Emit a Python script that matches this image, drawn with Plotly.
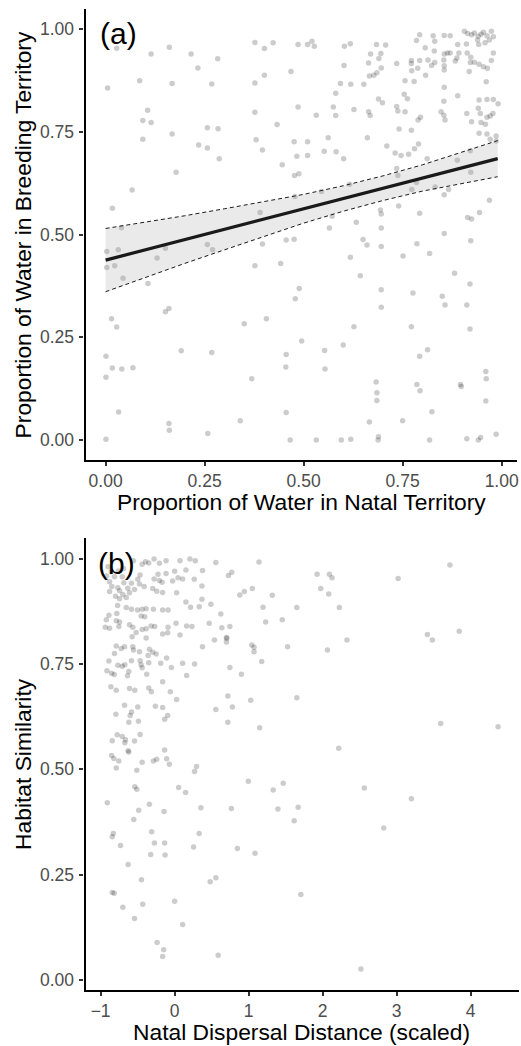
import plotly.graph_objects as go

# ---------------- Panel (a) data ----------------
natal_water = [
    0.005,0.028,0.086,0.115,0.161,0.168,0.216,0.233,0.268,0.283,0.377,0.401,0.377,0.401,0.377,0.380,
    0.396,0.106,0.094,0.115,0.094,0.168,0.257,0.284,0.235,0.257,0.287,0.178,0.067,0.017,0.040,0.390,
    0.003,0.003,0.023,0.032,0.044,0.107,0.130,0.151,0.257,0.270,0.377,0.396,0.151,0.160,0.015,0.028,
    0.350,0.406,0.001,0.017,0.041,0.069,0.191,0.268,0.001,0.369,0.033,0.160,0.161,0.258,0.340,0.001,
    0.423,0.486,0.510,0.521,0.527,0.603,0.618,0.684,0.707,0.793,
    0.785,0.827,0.831,0.855,0.870,0.906,0.914,0.924,0.931,0.941,
    0.948,0.954,0.963,0.974,0.979,0.939,0.958,0.969,0.942,0.911,
    0.889,0.863,0.870,0.855,0.892,0.913,0.979,0.807,0.830,0.669,
    0.695,0.690,0.664,0.602,0.735,0.772,0.772,0.793,0.814,0.823,
    0.831,0.854,0.883,0.887,0.922,0.921,0.931,0.943,0.954,0.964,
    0.974,0.855,0.855,0.696,0.685,0.677,0.666,0.773,0.788,0.808,
    0.918,0.468,0.593,0.619,0.652,0.756,0.779,0.961,0.855,0.581,
    0.754,0.762,0.889,0.689,0.699,0.854,0.943,0.963,0.979,0.991,
    0.486,0.575,0.627,0.735,0.738,0.756,0.664,0.668,0.847,0.854,
    0.941,0.946,0.912,0.963,0.971,0.978,0.532,0.581,0.795,0.789,
    0.857,0.924,0.948,0.959,0.433,0.741,0.772,0.943,0.963,0.986,
    0.562,0.661,0.476,0.510,0.971,0.986,0.710,0.790,0.780,0.921,
    0.552,0.582,0.483,0.510,0.731,0.746,0.765,0.601,0.446,0.888,
    0.812,0.735,0.922,0.477,0.488,0.738,0.785,0.773,0.832,0.866,
    0.855,0.478,0.545,0.616,0.969,0.694,0.696,0.740,0.793,0.914,
    0.924,0.944,0.572,0.633,0.565,0.696,0.855,0.456,0.476,0.650,
    0.660,0.696,0.786,0.922,
    0.442,0.618,0.751,0.818,0.643,0.881,0.489,0.479,0.696,0.696,
    0.776,0.850,0.857,0.912,0.920,0.627,0.772,0.920,0.495,0.553,
    0.600,0.456,0.455,0.554,0.813,0.793,0.960,0.961,0.960,0.683,
    0.685,0.685,0.786,0.794,0.896,0.898,0.456,0.666,0.750,0.824,
    0.466,0.532,0.595,0.619,0.689,0.688,0.818,0.912,0.941,0.947,
    0.986,
]
breeding_water = [
    0.857,0.954,0.875,0.940,0.956,0.868,0.940,0.906,0.867,0.928,0.968,0.953,0.869,0.888,0.798,0.731,
    0.706,0.803,0.778,0.773,0.732,0.745,0.760,0.758,0.718,0.711,0.685,0.652,0.609,0.564,0.517,0.554,
    0.459,0.420,0.424,0.463,0.394,0.381,0.443,0.467,0.476,0.463,0.424,0.477,0.312,0.320,0.295,0.275,
    0.283,0.295,0.204,0.175,0.173,0.176,0.217,0.213,0.153,0.149,0.068,0.040,0.024,0.016,0.047,0.002,
    0.967,0.963,0.963,0.971,0.959,0.959,0.965,0.963,0.962,0.987,
    0.973,0.984,0.971,0.985,0.984,0.995,0.990,0.987,0.991,0.983,
    0.988,0.993,0.984,0.995,0.982,0.974,0.967,0.974,0.963,0.964,
    0.963,0.942,0.942,0.940,0.942,0.942,0.942,0.955,0.947,0.940,
    0.941,0.929,0.918,0.912,0.917,0.924,0.917,0.924,0.925,0.912,
    0.919,0.925,0.923,0.930,0.932,0.919,0.920,0.915,0.909,0.905,
    0.924,0.911,0.901,0.906,0.894,0.888,0.886,0.899,0.905,0.888,
    0.897,0.897,0.868,0.866,0.866,0.875,0.873,0.872,0.859,0.844,
    0.842,0.831,0.838,0.830,0.821,0.825,0.828,0.829,0.829,0.819,
    0.811,0.811,0.805,0.812,0.801,0.799,0.799,0.790,0.799,0.791,
    0.808,0.795,0.795,0.786,0.789,0.795,0.791,0.790,0.786,0.779,
    0.779,0.775,0.773,0.769,0.768,0.757,0.754,0.747,0.745,0.740,
    0.736,0.736,0.726,0.726,0.732,0.728,0.716,0.721,0.709,0.704,
    0.703,0.702,0.691,0.693,0.699,0.693,0.696,0.685,0.670,0.681,
    0.685,0.661,0.652,0.644,0.648,0.644,0.627,0.610,0.616,0.610,
    0.597,0.593,0.605,0.623,0.584,0.560,0.550,0.570,0.552,0.542,
    0.538,0.554,0.545,0.530,0.516,0.516,0.503,0.487,0.489,0.488,
    0.475,0.471,0.478,0.485,
    0.430,0.445,0.448,0.454,0.400,0.406,0.369,0.344,0.366,0.323,
    0.358,0.350,0.329,0.329,0.380,0.276,0.276,0.270,0.241,0.218,
    0.231,0.208,0.178,0.173,0.220,0.204,0.167,0.149,0.095,0.141,
    0.115,0.096,0.135,0.120,0.135,0.130,0.067,0.044,0.047,0.069,
    0.000,0.000,0.000,0.002,0.008,0.000,0.000,0.003,0.000,0.006,
    0.014,
]

# fitted line and 95% CI band
fit_x = [0.00, 0.10, 0.20, 0.30, 0.40, 0.50, 0.60, 0.70, 0.80, 0.90, 0.99]
fit_y = [0.438, 0.463, 0.488, 0.513, 0.538, 0.563, 0.588, 0.613, 0.638, 0.663, 0.685]
ci_hi = [0.515, 0.530, 0.546, 0.563, 0.580, 0.598, 0.619, 0.643, 0.670, 0.701, 0.729]
ci_lo = [0.361, 0.396, 0.430, 0.463, 0.496, 0.528, 0.557, 0.583, 0.606, 0.625, 0.641]

# ---------------- Panel (b) data ----------------
dispersal = [
    -0.556,-0.439,-0.394,-0.350,-0.277,-0.206,-0.116,0.073,0.207,0.279,
    0.557,1.140,-0.901,-0.856,-0.762,-0.690,0.377,0.153,0.000,-0.116,
    -0.224,-0.466,0.772,0.727,-0.919,-0.812,-0.708,0.108,0.046,0.265,
    -0.027,-0.277,-0.206,-0.170,-0.498,-0.879,-0.686,-0.583,-0.475,-0.412,
    0.369,-0.848,-0.767,-0.879,-0.744,-0.633,-0.542,-0.296,-0.242,-0.162,
    -0.610,0.027,-0.700,-0.798,-0.654,-0.744,1.050,0.942,0.880,0.369,
    0.153,-0.771,-0.654,-0.583,-0.502,-0.439,-0.385,-0.287,-0.162,-0.089,
    0.215,0.332,0.490,1.194,-0.888,-0.781,-0.453,-0.404,-0.923,-0.789,
    -0.744,0.019,0.467,0.624,1.230,-0.937,-0.879,-0.754,-0.610,-0.565,
    -0.385,-0.318,-0.269,-0.089,0.162,0.234,0.638,0.746,-0.520,-0.439,
    -0.162,-0.094,-0.574,-0.385,0.073,0.700,0.705,0.538,0.700,0.377,
    1.042,1.073,1.073,-0.789,-0.722,-0.677,-0.565,-0.556,-0.475,-0.341,
    -0.296,-0.812,-0.358,-0.250,-0.108,-0.888,-0.583,-0.466,-0.453,-0.350,
    -0.188,0.108,0.269,1.176,-0.767,-0.708,-0.673,-0.439,-0.044,0.746,
    -0.915,-0.852,-0.816,-0.619,-0.637,-0.377,0.162,0.902,-0.162,-0.861,
    -0.610,-0.350,
    -0.789,-0.538,-0.314,-0.058,0.027,0.719,0.781,1.028,0.557,0.719,
    1.149,-0.677,-0.498,-0.260,-0.162,-0.794,-0.583,-0.601,-0.619,-0.489,
    -0.094,-0.135,-0.843,-0.776,-0.708,-0.664,-0.673,-0.542,-0.466,-0.628,
    -0.620,-0.135,-0.852,-0.821,-0.754,-0.789,-0.439,-0.287,-0.242,-0.108,
    -0.071,-0.511,0.296,0.269,0.996,-0.538,-0.511,0.054,0.148,-0.910,
    -0.341,-0.485,-0.143,0.355,0.767,-0.552,-0.310,-0.829,-0.843,0.332,
    -0.731,-0.273,-0.135,0.256,0.848,1.086,-0.323,-0.129,
    -0.628,-0.448,-0.843,-0.816,-0.700,-0.431,-0.542,0.000,0.108,-0.237,
    -0.148,-0.162,0.588,0.480,0.557,
    1.925,2.091,2.127,1.974,2.082,2.226,3.020,3.720,1.319,1.651,
    1.454,1.526,2.328,2.065,3.415,3.482,3.845,1.651,3.595,4.370,
    2.217,1.467,1.332,1.396,1.669,1.615,2.563,3.199,2.826,1.705,
    2.517,
]
similarity = [
    0.995,0.987,0.993,0.990,0.999,0.989,0.995,0.995,0.999,0.995,
    0.991,0.992,0.981,0.969,0.971,0.977,0.972,0.973,0.970,0.965,
    0.963,0.961,0.968,0.960,0.959,0.957,0.957,0.952,0.955,0.951,
    0.947,0.952,0.948,0.944,0.951,0.945,0.943,0.942,0.940,0.934,
    0.935,0.934,0.931,0.922,0.924,0.930,0.927,0.929,0.923,0.920,
    0.919,0.919,0.915,0.911,0.908,0.905,0.929,0.922,0.914,0.904,
    0.897,0.889,0.884,0.880,0.878,0.880,0.881,0.880,0.878,0.878,
    0.885,0.886,0.892,0.885,0.866,0.870,0.864,0.862,0.855,0.853,
    0.850,0.847,0.847,0.869,0.850,0.837,0.835,0.839,0.843,0.837,
    0.834,0.840,0.839,0.837,0.840,0.839,0.836,0.839,0.825,0.832,
    0.821,0.824,0.815,0.812,0.819,0.813,0.811,0.807,0.802,0.791,
    0.795,0.790,0.779,0.793,0.787,0.791,0.791,0.783,0.779,0.785,
    0.778,0.775,0.770,0.774,0.764,0.757,0.758,0.758,0.748,0.753,
    0.752,0.752,0.750,0.756,0.747,0.745,0.748,0.741,0.742,0.742,
    0.734,0.728,0.725,0.732,0.722,0.726,0.723,0.726,0.708,0.696,
    0.692,0.693,
    0.688,0.688,0.684,0.684,0.666,0.674,0.648,0.664,0.642,0.612,
    0.599,0.652,0.648,0.650,0.647,0.631,0.636,0.628,0.612,0.614,
    0.628,0.619,0.568,0.582,0.578,0.570,0.563,0.567,0.583,0.544,
    0.541,0.546,0.533,0.526,0.520,0.503,0.517,0.520,0.524,0.525,
    0.512,0.498,0.507,0.495,0.472,0.459,0.453,0.457,0.445,0.421,
    0.417,0.403,0.400,0.409,0.407,0.381,0.352,0.348,0.340,0.348,
    0.319,0.325,0.325,0.316,0.312,0.301,0.298,0.297,
    0.274,0.238,0.208,0.206,0.173,0.180,0.146,0.187,0.132,0.089,
    0.072,0.056,0.059,0.233,0.243,
    0.963,0.963,0.955,0.929,0.916,0.884,0.953,0.985,0.913,0.884,
    0.855,0.791,0.807,0.783,0.820,0.807,0.828,0.670,0.609,0.601,
    0.550,0.467,0.451,0.406,0.410,0.378,0.456,0.430,0.361,0.203,
    0.026,
]

prop_ticks = [0, 0.25, 0.5, 0.75, 1.0]
prop_labels = ["0.00", "0.25", "0.50", "0.75", "1.00"]
disp_ticks = [-1, 0, 1, 2, 3, 4]
disp_labels = ["\u22121", "0", "1", "2", "3", "4"]

assert len(natal_water) == len(breeding_water)
assert len(dispersal) == len(similarity)

W, H = 521, 1046
FONT = "Liberation Sans, Arial, sans-serif"
PT = dict(color="rgba(0,0,0,0.2)", size=5.5, line=dict(width=0))

fig = go.Figure()
fig.add_trace(go.Scatter(x=natal_water, y=breeding_water, mode="markers",
                         marker=PT, xaxis="x", yaxis="y", hoverinfo="skip"))
fig.add_trace(go.Scatter(x=fit_x, y=ci_hi, mode="lines", xaxis="x", yaxis="y",
                         line=dict(color="#1a1a1a", width=1, dash="4px,3px")))
fig.add_trace(go.Scatter(x=fit_x, y=ci_lo, mode="lines", xaxis="x", yaxis="y",
                         fill="tonexty", fillcolor="rgba(160,160,160,0.22)",
                         line=dict(color="#1a1a1a", width=1, dash="4px,3px")))
fig.add_trace(go.Scatter(x=fit_x, y=fit_y, mode="lines", xaxis="x", yaxis="y",
                         line=dict(color="#1a1a1a", width=3.2)))
fig.add_trace(go.Scatter(x=dispersal, y=similarity, mode="markers",
                         marker=PT, xaxis="x2", yaxis="y2", hoverinfo="skip"))

def ax(domain, rng, tv, tt, anchor, standoff):
    return dict(domain=domain, range=rng, tickvals=tv, ticktext=tt, anchor=anchor,
                showgrid=False, zeroline=False, showline=True, linecolor="#000000",
                linewidth=2.4, ticks="outside", ticklen=4, tickwidth=2.4,
                tickcolor="#333333", tickfont=dict(size=17.5, color="#4d4d4d", family=FONT),
                ticklabelstandoff=standoff, fixedrange=True)

fig.update_layout(
    width=W, height=H, margin=dict(l=0, r=0, t=0, b=0),
    paper_bgcolor="white", plot_bgcolor="white", showlegend=False,
    font=dict(family=FONT),
    xaxis=ax([86 / W, 519.3 / W], [-0.0503, 1.0395], prop_ticks, prop_labels, "y", 0),
    yaxis=ax([(H - 460) / H, (H - 9) / H], [-0.0487, 1.0494], prop_ticks, prop_labels, "x", 2),
    xaxis2=ax([86 / W, 1.0], [-1.202, 4.653], disp_ticks, disp_labels, "y2", 0),
    yaxis2=ax([(H - 990) / H, (H - 538.3) / H], [-0.0237, 1.0484], prop_ticks, prop_labels, "x2", 2),
)

def txt(s, x, y, size=22.8, angle=0, xanchor="center"):
    fig.add_annotation(text=s, x=x / W, y=(H - y) / H, xref="paper", yref="paper",
                       showarrow=False, textangle=angle, xanchor=xanchor, yanchor="middle",
                       font=dict(size=size, color="#000000", family=FONT))

txt("(a)", 98, 33, size=30, xanchor="left")
txt("(b)", 96, 563, size=30, xanchor="left")
txt("Proportion of Water in Natal Territory", 302.5, 502)
txt("Proportion of Water in Breeding Territory", 23, 234.5, angle=-90)
txt("Natal Dispersal Distance (scaled)", 303, 1031.5)
txt("Habitat Similarity", 23, 764, angle=-90)

fig.write_html("out.html", config={"displayModeBar": False},
               post_script="document.body.style.margin='0px';")
